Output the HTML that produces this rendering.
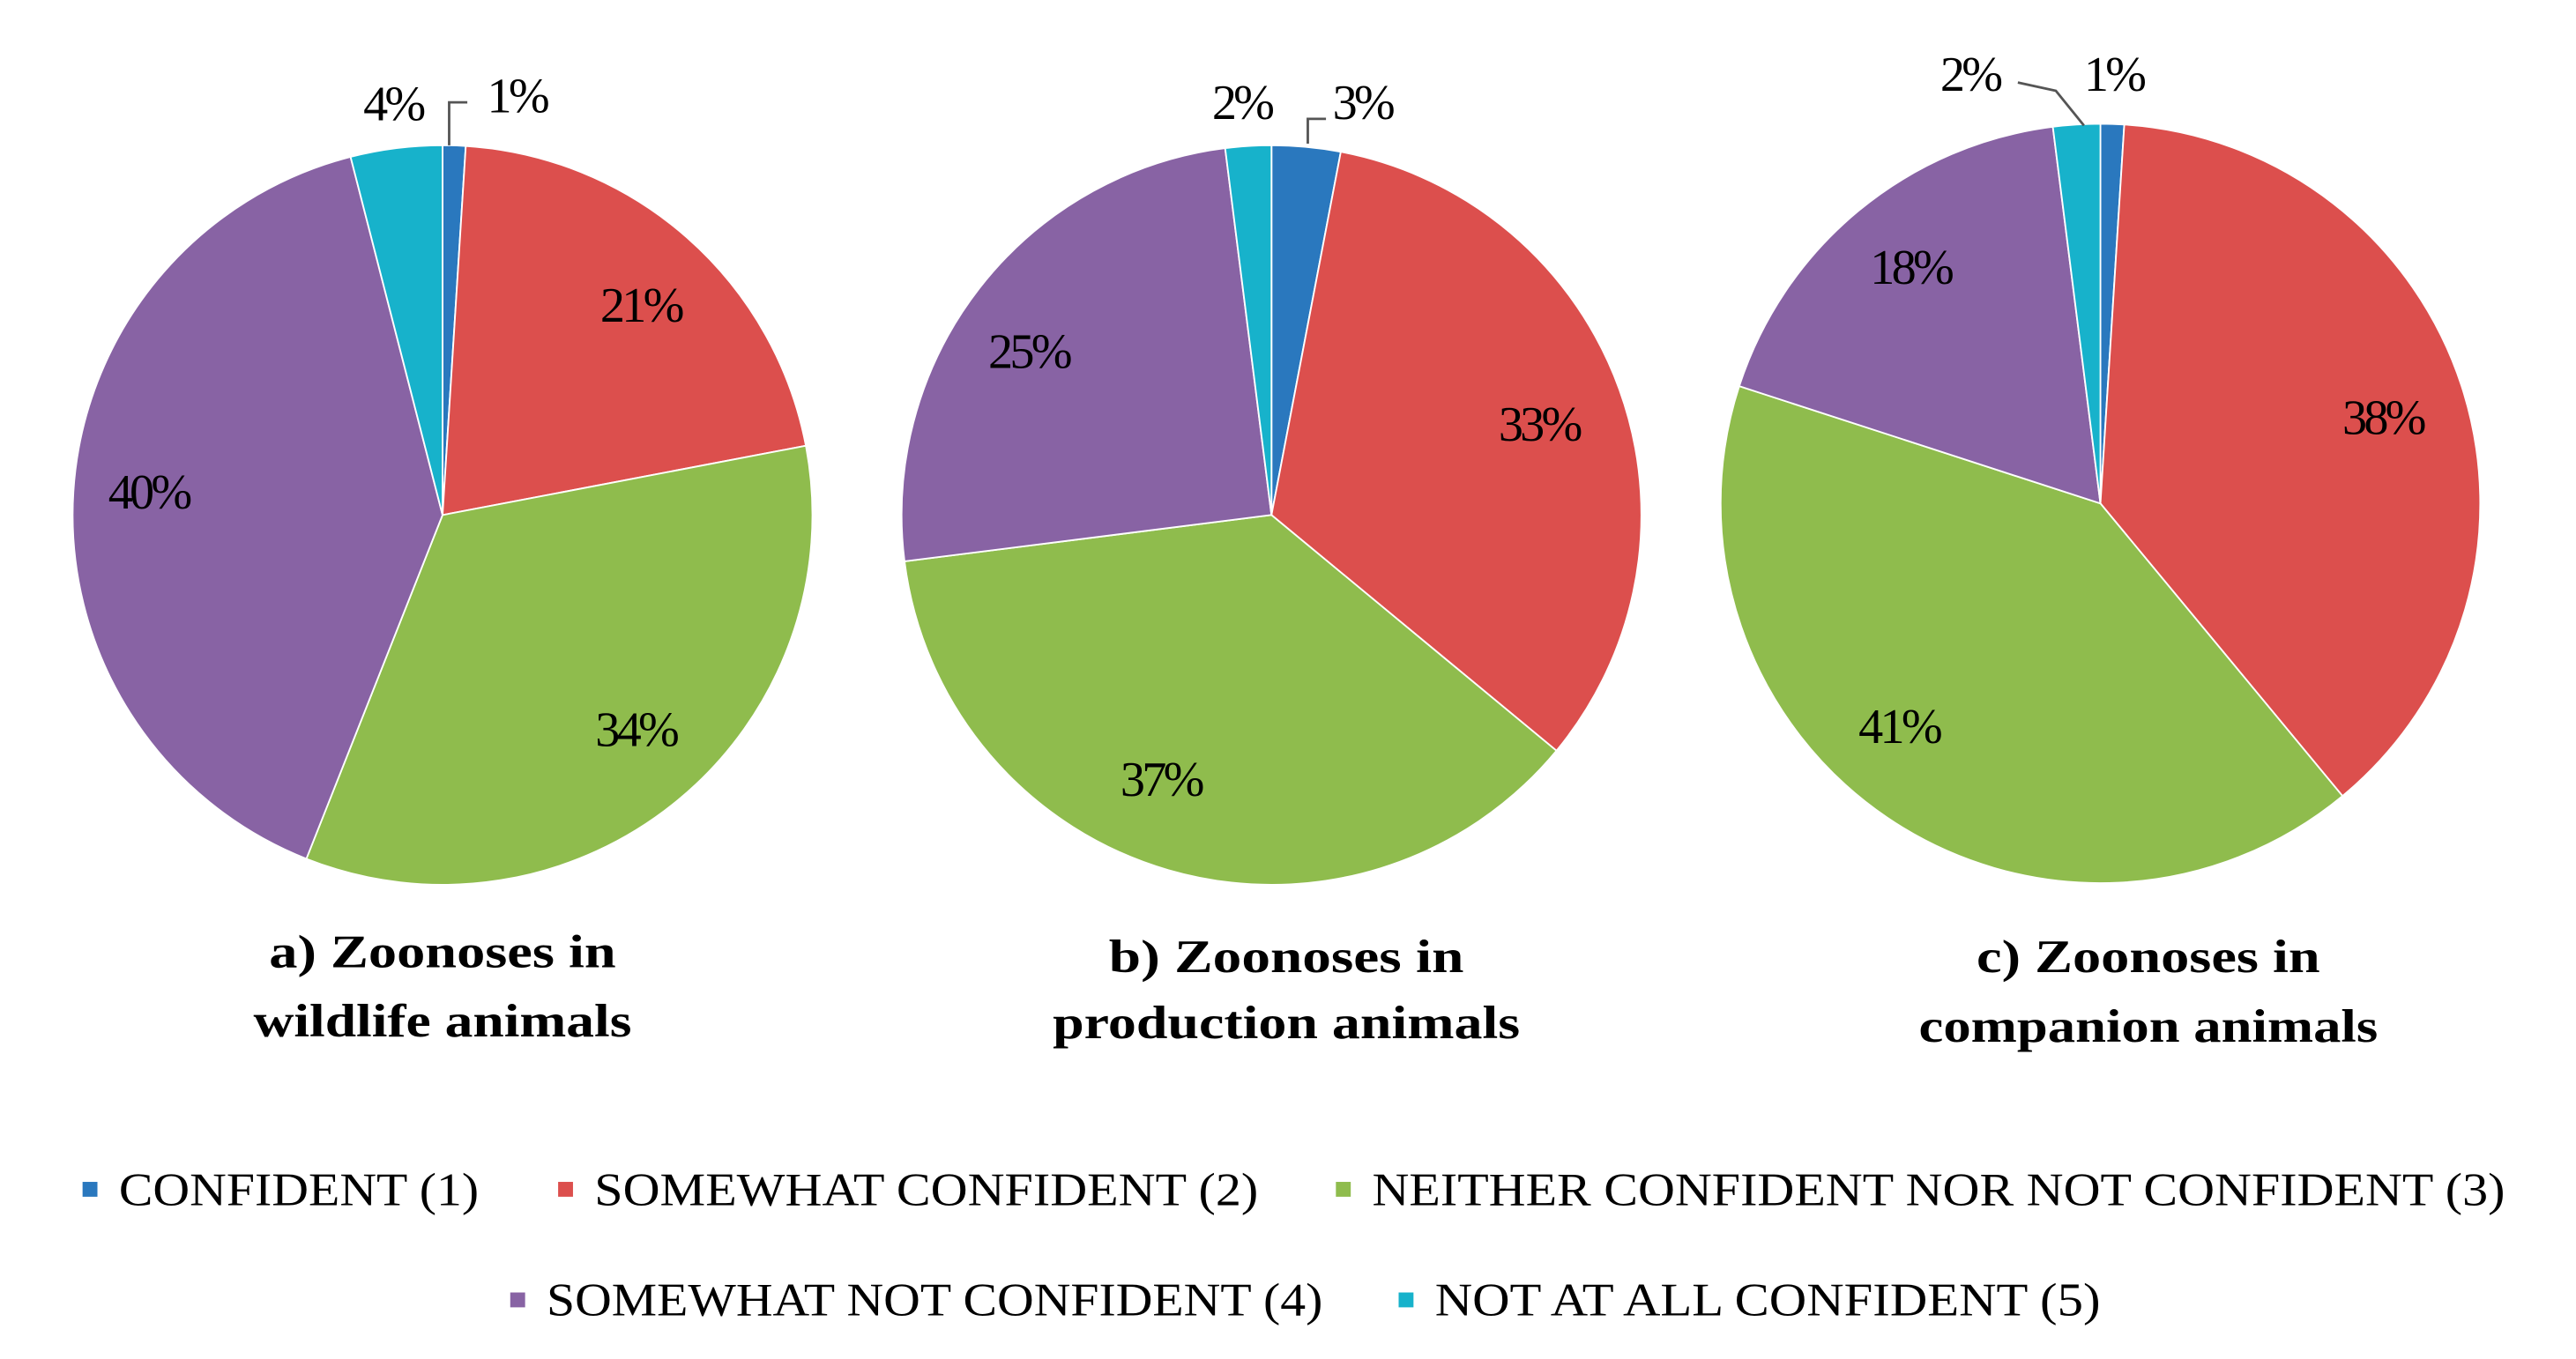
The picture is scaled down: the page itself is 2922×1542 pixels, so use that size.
<!DOCTYPE html>
<html><head><meta charset="utf-8"><style>
html,body{margin:0;padding:0;background:#fff;}
svg{display:block;}
text{font-family:"Liberation Serif",serif;fill:#000;}
</style></head><body>
<svg id="chart" width="2922" height="1542" viewBox="0 0 1560 823.3" preserveAspectRatio="none" xmlns="http://www.w3.org/2000/svg">
<rect width="1560" height="823.3" fill="#fff"/>
<g id="pies"></g>
<g id="legend"></g>
</svg>
<script>
const categories = ["CONFIDENT (1)","SOMEWHAT CONFIDENT (2)","NEITHER CONFIDENT NOR NOT CONFIDENT (3)","SOMEWHAT NOT CONFIDENT (4)","NOT AT ALL CONFIDENT (5)"];
const wildlifeValues = [1,21,34,40,4];
const productionValues = [3,33,37,25,2];
const companionValues = [1,38,41,18,2];
const chartTitles = [["a) Zoonoses in","wildlife animals"],["b) Zoonoses in","production animals"],["c) Zoonoses in","companion animals"]];
const colors = ["#2a78be","#dc4f4d","#8fbc4d","#8863a4","#17b2cb"];

const NS="http://www.w3.org/2000/svg";
function mk(tag,attrs,parent){const e=document.createElementNS(NS,tag);for(const k in attrs)e.setAttribute(k,attrs[k]);parent.appendChild(e);return e;}

const pies=[
 {vals:wildlifeValues,cx:268,cy:312,r:224,title:chartTitles[0],tx:268,ty:[577,619],tw:[210,229],
  labels:[[313,58],[388,185],[385,442],[90,298],[238,63]],name:"wildlife"},
 {vals:productionValues,cx:770,cy:312,r:224,title:chartTitles[1],tx:779,ty:[580,620],tw:[215,283],
  labels:[[825,62],[932,257],[703,472],[623,213],[752,62]],name:"production"},
 {vals:companionValues,cx:1272,cy:305,r:230,title:chartTitles[2],tx:1301,ty:[580,622],tw:[208,278],
  labels:[[1280,45],[1443,253],[1150,440],[1157,162],[1193,45]],name:"companion"}
];
const root=document.getElementById('pies');
function pt(cx,cy,r,a){return [cx+r*Math.sin(a),cy-r*Math.cos(a)];}
pies.forEach((p,pi)=>{
  const g=mk('g',{},root);
  
  
  const total=p.vals.reduce((a,b)=>a+b,0);
  let acc=0;
  p.vals.forEach((v,i)=>{
    const a0=acc/total*2*Math.PI; acc+=v; const a1=acc/total*2*Math.PI;
    const s=pt(p.cx,p.cy,p.r,a0), e=pt(p.cx,p.cy,p.r,a1);
    const large=(a1-a0)>Math.PI?1:0;
    const path=mk('path',{d:`M${p.cx},${p.cy} L${s[0]},${s[1]} A${p.r},${p.r} 0 ${large} 1 ${e[0]},${e[1]} Z`,fill:colors[i],stroke:'#fff','stroke-width':1},g);
    
    
    const L=p.labels[i];
    const t=mk('text',{x:L[0],y:L[1]+10,'text-anchor':'middle','font-size':30,'letter-spacing':-2},g);
    t.textContent=v+'%';
    
    
  });
  p.title.forEach((ln,j)=>{
    const t=mk('text',{x:p.tx-p.tw[j]/2,y:p.ty[j]+9,'font-size':28,'font-weight':'bold',textLength:p.tw[j],lengthAdjust:'spacingAndGlyphs'},g);
    t.textContent=ln;
    
    
  });
});
const lead=mk('g',{stroke:'#555','stroke-width':1.5,fill:'none'},root);


mk('polyline',{points:"272,88 272,62 283,62"},lead);
mk('polyline',{points:"792,87 792,72 803,72"},lead);
mk('polyline',{points:"1222,50 1245,55 1262,76"},lead);

const leg=document.getElementById('legend');
const legItems=[[54,720,290],[342,720,762],[813,720,1517],[313,787,801],[851,787,1272]];
legItems.forEach((it,i)=>{
  const g=mk('g',{},leg);
  
  
  mk('rect',{x:it[0]-4,y:it[1]-4,width:9,height:9,fill:colors[i]},g);
  const t=mk('text',{x:it[0]+18,y:it[1]+10,'font-size':28,textLength:it[2]-it[0]-18,lengthAdjust:'spacingAndGlyphs',fill:'#333'},g);
  t.textContent=categories[i];
});
</script>
</body></html>
